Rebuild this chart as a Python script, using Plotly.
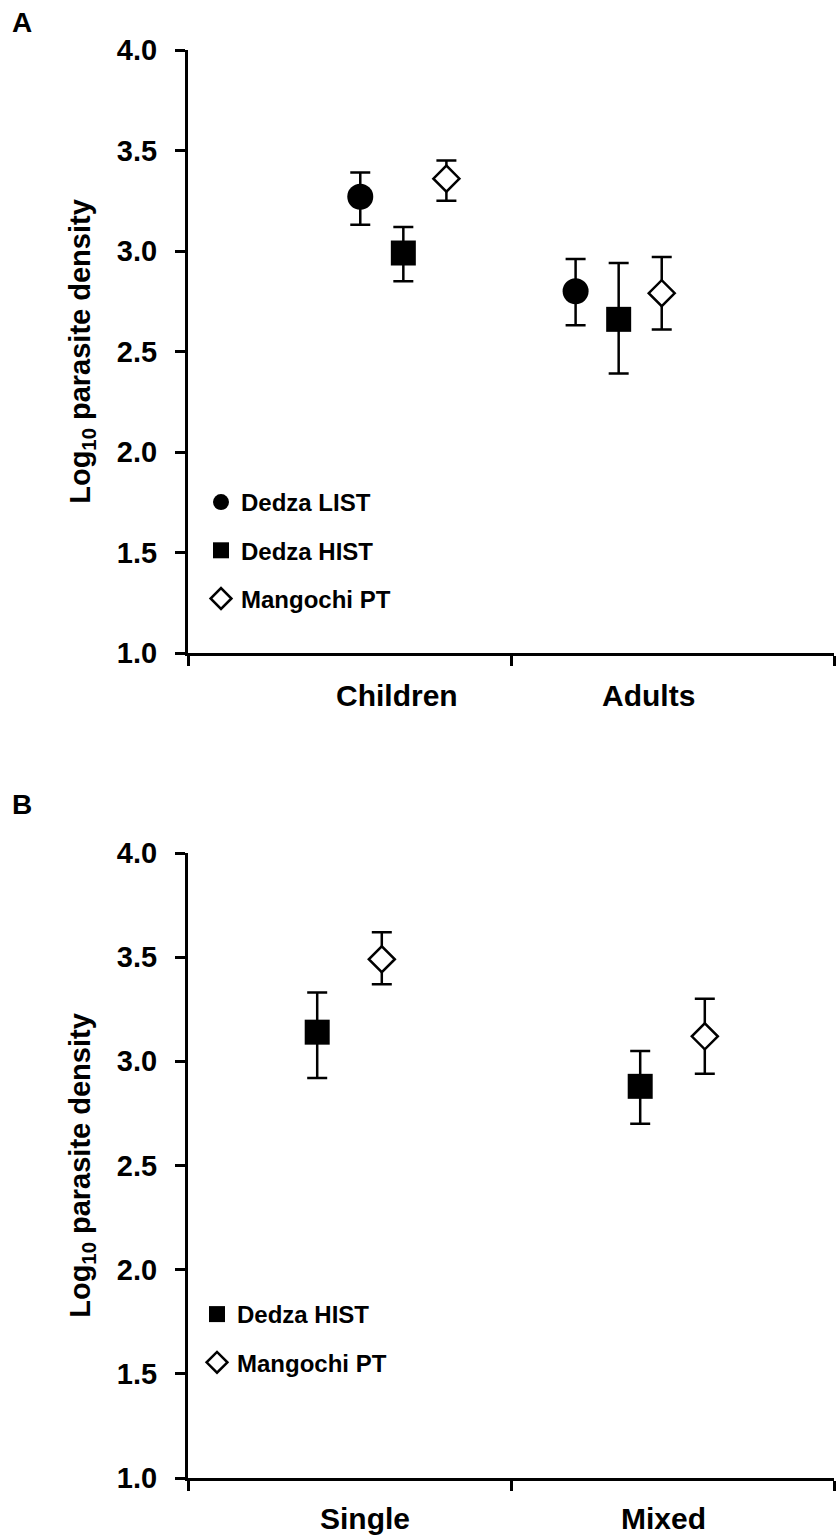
import plotly.graph_objects as go

# ---------------- data ----------------
groups_a = ["Children", "Adults"]
list_mean = [3.27, 2.80]
list_plus = [0.12, 0.16]
list_minus = [0.14, 0.17]
hist_mean = [2.99, 2.66]
hist_plus = [0.13, 0.28]
hist_minus = [0.14, 0.27]
mang_mean = [3.36, 2.79]
mang_plus = [0.09, 0.18]
mang_minus = [0.11, 0.18]

groups_b = ["Single", "Mixed"]
histb_mean = [3.14, 2.88]
histb_plus = [0.19, 0.17]
histb_minus = [0.22, 0.18]
mangb_mean = [3.49, 3.12]
mangb_plus = [0.13, 0.18]
mangb_minus = [0.12, 0.18]

y_ticks = [1.0, 1.5, 2.0, 2.5, 3.0, 3.5, 4.0]

# ---------------- layout helpers ----------------
W, H = 836, 1537
L, R, T, B = 188, 2, 50, 59
FONT = "Liberation Sans, Arial, sans-serif"

centers_a = [1.0, 2.0]
off_a = [-0.2, 0.0, 0.2]
centers_b = [0.75, 2.25]
off_b = [-0.15, 0.15]
label_pos_a = [0.97, 2.14]
label_pos_b = [0.82, 2.21]

fig = go.Figure()


def err(plus, minus):
    return dict(type="data", symmetric=False, array=plus, arrayminus=minus,
                color="black", thickness=2.5, width=10)


def add(xs, ys, plus, minus, name, symbol, size, fill, xa, ya, legend):
    fig.add_trace(go.Scatter(
        x=xs, y=ys, mode="markers", name=name, legend=legend, legendgroup=name + legend,
        xaxis=xa, yaxis=ya,
        marker=dict(symbol=symbol, size=size, color=fill,
                    line=dict(color="black", width=2.5 if fill == "white" else 0)),
        error_y=err(plus, minus),
        showlegend=True,
    ))


add([c + off_a[0] for c in centers_a], list_mean, list_plus, list_minus,
    "Dedza LIST", "circle", 26, "black", "x", "y", "legend")
add([c + off_a[1] for c in centers_a], hist_mean, hist_plus, hist_minus,
    "Dedza HIST", "square", 25, "black", "x", "y", "legend")
add([c + off_a[2] for c in centers_a], mang_mean, mang_plus, mang_minus,
    "Mangochi PT", "diamond", 20, "white", "x", "y", "legend")

add([c + off_b[0] for c in centers_b], histb_mean, histb_plus, histb_minus,
    "Dedza HIST", "square", 25, "black", "x2", "y2", "legend2")
add([c + off_b[1] for c in centers_b], mangb_mean, mangb_plus, mangb_minus,
    "Mangochi PT", "diamond", 20, "white", "x2", "y2", "legend2")

plot_h = H - T - B
dom_a = [(H - B - 653) / plot_h, 1.0]
dom_b = [0.0, (H - B - 853) / plot_h]

xaxis_common = dict(range=[0, 3], tickvals=[0, 1.5, 3], showticklabels=False,
                    ticks="outside", ticklen=10, tickwidth=3, tickcolor="black",
                    showline=True, linewidth=3, linecolor="black",
                    showgrid=False, zeroline=False, fixedrange=True)
yaxis_common = dict(range=[1.0, 4.0], tickvals=y_ticks,
                    ticktext=[f"{v:.1f}" for v in y_ticks],
                    ticks="outside", ticklen=10, tickwidth=3, tickcolor="black",
                    ticklabelstandoff=12,
                    tickfont=dict(family=FONT, size=29, color="black", weight="bold"),
                    showline=True, linewidth=3, linecolor="black",
                    showgrid=False, zeroline=False,
                    title=dict(text="Log<sub>10</sub> parasite density",
                               font=dict(family=FONT, size=29, color="black", weight="bold"),
                               standoff=18))

legend_common = dict(font=dict(family=FONT, size=24, color="black", weight="bold"),
                     bgcolor="rgba(0,0,0,0)", borderwidth=0, tracegroupgap=14,
                     xanchor="left", yanchor="top", itemclick=False)

fig.update_layout(
    width=W, height=H,
    margin=dict(l=L, r=R, t=T, b=B),
    paper_bgcolor="white", plot_bgcolor="white",
    xaxis=dict(domain=[0, 1], anchor="y", **xaxis_common),
    yaxis=dict(domain=dom_a, anchor="x", **yaxis_common),
    xaxis2=dict(domain=[0, 1], anchor="y2", **xaxis_common),
    yaxis2=dict(domain=dom_b, anchor="x2", **yaxis_common),
    legend=dict(x=(201 - L) / (W - L - R), y=(H - B - 480) / plot_h, **legend_common),
    legend2=dict(x=(197 - L) / (W - L - R), y=(H - B - 1292) / plot_h, **legend_common),
    showlegend=True,
)

annotations = []
for lab, xp in zip(groups_a, label_pos_a):
    annotations.append(dict(text=lab, x=xp, y=0, xref="x", yref="y domain",
                            yshift=-42, yanchor="middle", showarrow=False,
                            font=dict(family=FONT, size=30, color="black", weight="bold")))
for lab, xp in zip(groups_b, label_pos_b):
    annotations.append(dict(text=lab, x=xp, y=0, xref="x2", yref="y2 domain",
                            yshift=-40, yanchor="middle", showarrow=False,
                            font=dict(family=FONT, size=30, color="black", weight="bold")))
for letter, py in [("A", 22), ("B", 804)]:
    annotations.append(dict(text=letter, x=(22 - L) / (W - L - R), y=(H - B - py) / plot_h,
                            xref="paper", yref="paper", xanchor="center", yanchor="middle",
                            showarrow=False,
                            font=dict(family=FONT, size=28, color="black", weight="bold")))
fig.update_layout(annotations=annotations)

fig.write_html("out.html")
